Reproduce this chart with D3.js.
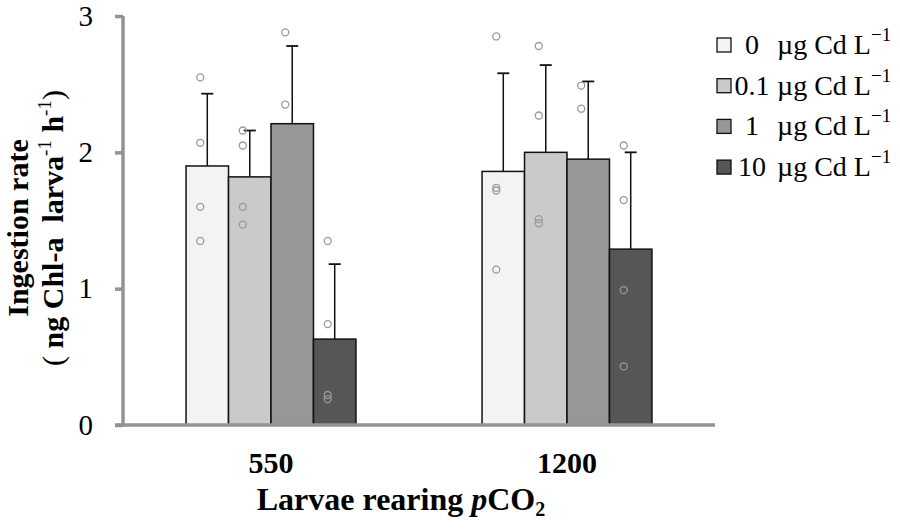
<!DOCTYPE html>
<html>
<head>
<meta charset="utf-8">
<script src="https://cdn.jsdelivr.net/npm/d3@7"></script>
<style>
  body { margin: 0; background: #fff; }
  svg { display: block; }
  text { font-family: "Liberation Serif", "Times New Roman", serif; fill: #000; }
</style>
</head>
<body>
<svg id="chart" width="900" height="529"></svg>
<script>
// data
const groups = ['550', '1200'];
const treatments = ['0', '0.1', '1', '10'];
const means = [
  [1.90, 1.82, 2.21, 0.63],   // 550
  [1.86, 2.00, 1.95, 1.29]    // 1200
];
const errs = [
  [0.53, 0.34, 0.57, 0.55],
  [0.72, 0.64, 0.57, 0.71]
];
// individual replicates (only those visible)
const points = [
  [[2.55, 2.07, 1.60, 1.35], [2.16, 2.05, 1.60, 1.47], [2.88, 2.35], [1.35, 0.74, 0.22, 0.19]],
  [[2.85, 1.74, 1.72, 1.14], [2.78, 2.27, 1.51, 1.48], [2.49, 2.32], [2.05, 1.65, 0.99, 0.43]]
];
const yTicks = [0, 1, 2, 3];
const fills = ['#f3f3f3', '#cacaca', '#979797', '#565656'];

const svg = d3.select('#chart');
const plotLeft = 123, plotRight = 715, plotTop = 16, plotBottom = 425;

const x0 = d3.scaleBand().domain(groups).range([plotLeft, plotRight])
  .paddingInner(0.426).paddingOuter(0.213);
const x1 = d3.scaleBand().domain(treatments).range([0, x0.bandwidth()]);
const y = d3.scaleLinear().domain([0, 3]).range([plotBottom, plotTop]);

// bars
const g = svg.append('g');
groups.forEach((grp, gi) => {
  const gg = g.append('g').attr('transform', `translate(${x0(grp)},0)`);
  const rows = treatments.map((t, ti) => ({ t, ti, m: means[gi][ti], e: errs[gi][ti], pts: points[gi][ti] }));

  // error bars (upper only)
  gg.selectAll('line.err').data(rows).join('line')
    .attr('class', 'err')
    .attr('x1', d => x1(d.t) + x1.bandwidth() / 2)
    .attr('x2', d => x1(d.t) + x1.bandwidth() / 2)
    .attr('y1', d => y(d.m)).attr('y2', d => y(d.m + d.e))
    .attr('stroke', '#111').attr('stroke-width', 1.5);
  gg.selectAll('line.cap').data(rows).join('line')
    .attr('class', 'cap')
    .attr('x1', d => x1(d.t) + x1.bandwidth() / 2 - 6)
    .attr('x2', d => x1(d.t) + x1.bandwidth() / 2 + 6)
    .attr('y1', d => y(d.m + d.e)).attr('y2', d => y(d.m + d.e))
    .attr('stroke', '#111').attr('stroke-width', 1.8);

  gg.selectAll('rect').data(rows).join('rect')
    .attr('x', d => x1(d.t))
    .attr('y', d => y(d.m))
    .attr('width', x1.bandwidth())
    .attr('height', d => y(0) - y(d.m))
    .attr('fill', d => fills[d.ti])
    .attr('stroke', '#111').attr('stroke-width', 1.5);

  // replicate points
  rows.forEach(d => {
    gg.selectAll(null).data(d.pts).join('circle')
      .attr('cx', x1(d.t) + x1.bandwidth() / 2 - 7)
      .attr('cy', v => y(v))
      .attr('r', 3.5)
      .attr('fill', 'none')
      .attr('stroke', '#9a9a9a').attr('stroke-width', 1.3);
  });
});

// y axis
const yAxis = svg.append('g').attr('transform', `translate(${plotLeft},0)`)
  .call(d3.axisLeft(y).tickValues(yTicks).tickFormat(d3.format('d')).tickSize(8).tickPadding(22));
yAxis.select('.domain').attr('d', `M0,${plotTop}V${plotBottom}`).attr('stroke', '#939393').attr('stroke-width', 3.5);
yAxis.selectAll('.tick line').attr('stroke', '#939393').attr('stroke-width', 3.5);
yAxis.selectAll('.tick text').attr('font-family', '"Liberation Serif", serif').attr('font-size', 29).attr('fill', '#222');

// x axis
svg.append('line').attr('x1', plotLeft - 8).attr('x2', plotRight).attr('y1', plotBottom).attr('y2', plotBottom)
  .attr('stroke', '#939393').attr('stroke-width', 3.5);
svg.selectAll('text.xl').data(groups).join('text')
  .attr('class', 'xl')
  .attr('x', d => x0(d) + x0.bandwidth() / 2)
  .attr('y', 473)
  .attr('text-anchor', 'middle')
  .attr('font-size', 30).attr('font-weight', 'bold')
  .text(d => d);

// x title
const xt = svg.append('text').attr('x', 401).attr('y', 510).attr('text-anchor', 'middle')
  .attr('font-size', 32).attr('font-weight', 'bold');
xt.append('tspan').text('Larvae rearing ');
xt.append('tspan').attr('font-style', 'italic').text('p');
xt.append('tspan').text('CO');
xt.append('tspan').attr('font-size', 20).attr('dy', 6).text('2');

// y title
const yt = svg.append('g').attr('transform', 'translate(28,228) rotate(-90)');
yt.append('text').attr('text-anchor', 'middle').attr('font-size', 30).attr('font-weight', 'bold')
  .text('Ingestion rate');
const y2 = yt.append('text').attr('y', 35).attr('text-anchor', 'middle').attr('font-size', 30)
  .attr('xml:space', 'preserve');
y2.append('tspan').text('( ');
y2.append('tspan').attr('font-weight', 'bold').text('ng Chl-a  larva');
y2.append('tspan').attr('font-size', 19).attr('dy', -12).text('-1');
y2.append('tspan').attr('font-weight', 'bold').attr('dy', 12).text(' h');
y2.append('tspan').attr('font-size', 19).attr('dy', -12).text('-1');
y2.append('tspan').attr('dy', 12).text(')');

// legend
const lg = svg.append('g');
treatments.forEach((t, i) => {
  const cy = 45 + i * 40.7;
  lg.append('rect').attr('x', 717).attr('y', cy - 7).attr('width', 14).attr('height', 14)
    .attr('fill', fills[i]).attr('stroke', '#111').attr('stroke-width', 1.3);
  lg.append('text').attr('x', 752).attr('y', cy + 9).attr('text-anchor', 'middle')
    .attr('font-size', 28).text(t);
  const tx = lg.append('text').attr('x', 777).attr('y', cy + 9).attr('font-size', 28);
  tx.append('tspan').text('\u00b5g Cd L');
  tx.append('tspan').attr('font-size', 19).attr('dy', -13).text('\u22121');
});
</script>
</body>
</html>
